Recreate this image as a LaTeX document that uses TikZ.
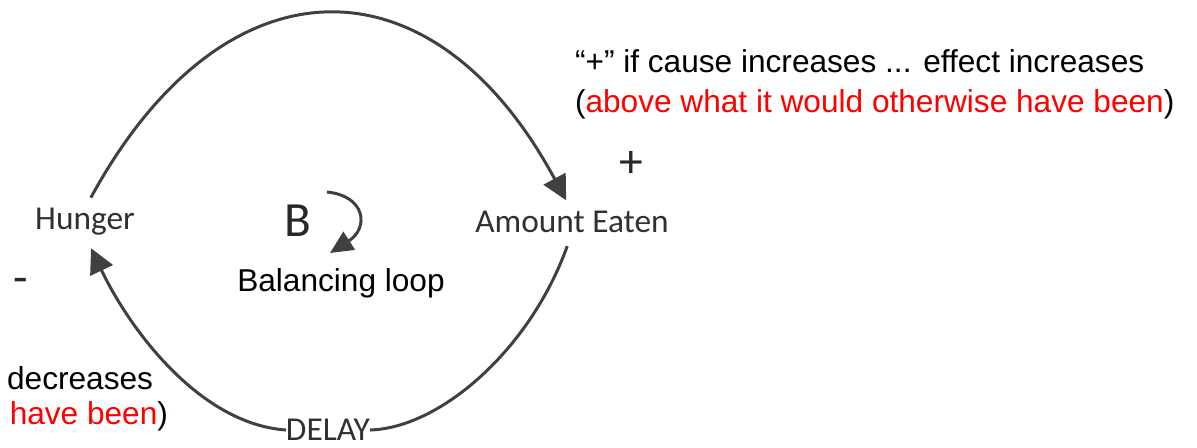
\documentclass[tikz,border=0pt]{standalone}
\usepackage{fontspec}
\setmainfont{Liberation Sans}
\newfontfamily\calibrifont{Carlito}
\usetikzlibrary{arrows.meta}
\definecolor{loopgray}{HTML}{404040}
\definecolor{notered}{HTML}{FF0000}

\begin{document}
\begin{tikzpicture}[
x=0.02cm,
y=0.02cm,
every node/.style={inner sep=0pt,outer sep=0pt},
var/.style={font=\calibrifont\fontsize{19}{22}\selectfont,text=loopgray!75!black},
bigvar/.style={font=\calibrifont\fontsize{28}{30}\selectfont,text=loopgray!60!black},
sign/.style={font=\calibrifont\fontsize{27}{30}\selectfont,text=loopgray!60!black},
note/.style={font=\fontsize{18}{22.8}\selectfont,align=left},
wire/.style={draw=loopgray,line width=1.7pt},
link/.style={wire,-{Triangle[length=14pt,width=14pt]}},
smalllink/.style={wire,-{Triangle[length=13pt,width=12pt]}}
]
\useasboundingbox (0,0) rectangle (1197,-447);
\node[var] (hunger) at (85,-222) {Hunger};
\node[var] (eaten) at (572,-222) {Amount Eaten};
\node[var] (delay) at (328,-430) {DELAY};
\node[bigvar] (bsym) at (298,-221) {B};
\node[note] (loopname) at (341,-283) {Balancing loop};
\node[sign] (plus) at (631,-164) {+};
\node[sign] (minus) at (21,-286) {-};
\node[note,anchor=north west] (plusnote) at (575,-50) {“+” if cause increases ... effect increases\\(\textcolor{notered}{above what it would otherwise have been})};
\node[note,anchor=east] (minusnote) at (153,-378) {decreases};
\node[note,anchor=east] (minustail) at (168,-416) {\textcolor{notered}{have been})};
\coordinate (loopstart) at (327,-192);
\coordinate (looptip) at (330,-253);

\draw[link,shorten <=7pt,shorten >=7pt] (hunger.north) .. controls (224,47) and (433,47) .. (eaten.north);
\draw[wire,shorten <=8pt] (eaten.south) .. controls (530,-350) and (440,-428) .. (delay.east);
\draw[link,shorten >=8pt] (delay.west) .. controls (200,-424) and (130,-330) .. (hunger.south);
\draw[smalllink] (loopstart) .. controls (366,-196) and (369,-228) .. (looptip);
\end{tikzpicture}
\end{document}
